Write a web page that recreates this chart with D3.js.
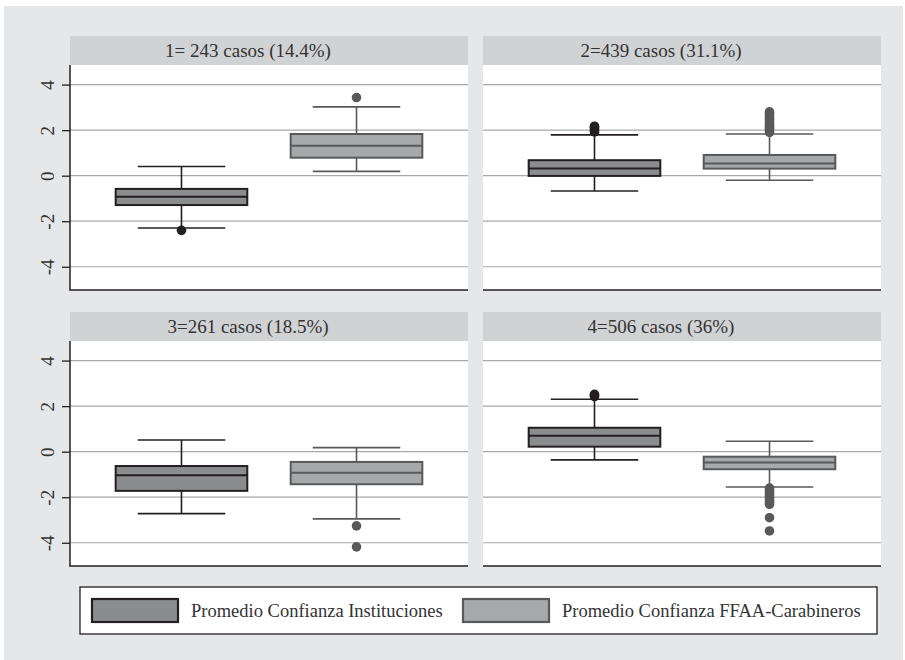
<!DOCTYPE html>
<html>
<head>
<meta charset="utf-8">
<script src="https://cdn.jsdelivr.net/npm/d3@7/dist/d3.min.js"></script>
<style>
  html, body { margin: 0; padding: 0; background: #ffffff; }
  svg { display: block; }
</style>
</head>
<body>
<svg id="chart" width="905" height="660"></svg>
<script>
// ---------------- DATA ----------------
const panelTitles = ["1= 243 casos (14.4%)", "2=439 casos (31.1%)", "3=261 casos (18.5%)", "4=506 casos (36%)"];
const seriesNames = ["Promedio Confianza Instituciones", "Promedio Confianza FFAA-Carabineros"];
const yTicks = [-4, -2, 0, 2, 4];

// Series 1: Promedio Confianza Instituciones (per panel 1..4)
const instLowWhisker = [-2.30, -0.67, -2.72, -0.36];
const instQ1         = [-1.29, -0.01, -1.72,  0.22];
const instMedian     = [-0.92,  0.31, -1.04,  0.70];
const instQ3         = [-0.58,  0.68, -0.63,  1.05];
const instUpWhisker  = [ 0.40,  1.79,  0.51,  2.30];
const instOutliers   = [[-2.40], [1.92, 1.98, 2.05, 2.12, 2.17], [], [2.42, 2.47, 2.52]];

// Series 2: Promedio Confianza FFAA-Carabineros (per panel 1..4)
const ffaaLowWhisker = [ 0.19, -0.20, -2.95, -1.55];
const ffaaQ1         = [ 0.79,  0.31, -1.43, -0.77];
const ffaaMedian     = [ 1.31,  0.54, -0.92, -0.48];
const ffaaQ3         = [ 1.83,  0.91, -0.45, -0.22];
const ffaaUpWhisker  = [ 3.02,  1.83,  0.18,  0.46];
const ffaaOutliers   = [[3.43],
                        [1.90, 1.97, 2.04, 2.11, 2.18, 2.25, 2.32, 2.40, 2.48, 2.56, 2.64, 2.72, 2.80],
                        [-3.26, -4.18],
                        [-1.60, -1.68, -1.76, -1.84, -1.92, -2.00, -2.08, -2.16, -2.24, -2.31, -2.90, -3.48]];

// ---------------- STYLE / LAYOUT ----------------
const FONT = "'Liberation Serif', 'DejaVu Serif', 'Noto Serif', 'Times New Roman', serif";
const colors = {
  bg: "#e6e7e8", strip: "#d1d2d4", plot: "#ffffff", grid: "#a7a8aa",
  axis: "#231f20", text: "#333333"
};
const seriesStyle = [
  { fill: "#8b8c8e", stroke: "#231f20", dot: "#231f20" },
  { fill: "#a7a8aa", stroke: "#58595b", dot: "#58595b" }
];

const colX = [70, 483], panelW = 398;
const rowY = [36, 312], stripH = 29, plotH = 225;
const yDomain = [-5.02, 4.86];

const series = [
  { lo: instLowWhisker, q1: instQ1, med: instMedian, q3: instQ3, hi: instUpWhisker, out: instOutliers },
  { lo: ffaaLowWhisker, q1: ffaaQ1, med: ffaaMedian, q3: ffaaQ3, hi: ffaaUpWhisker, out: ffaaOutliers }
];

const svg = d3.select("#chart");
svg.append("rect").attr("x", 4).attr("y", 6).attr("width", 899).attr("height", 654).attr("fill", colors.bg);

const x = d3.scalePoint().domain(seriesNames).range([0, panelW]).padding(0.637);
const step = x.step();
const boxW = step * 0.752, capW = step * 0.5;

panelTitles.forEach((title, p) => {
  const col = p % 2, row = Math.floor(p / 2);
  const px = colX[col], top = rowY[row];
  const plotTop = top + stripH, plotBottom = plotTop + plotH;
  const y = d3.scaleLinear().domain(yDomain).range([plotBottom, plotTop]);
  const g = svg.append("g").attr("transform", `translate(${px},0)`);

  g.append("rect").attr("x", 0).attr("y", top).attr("width", panelW).attr("height", stripH).attr("fill", colors.strip);
  g.append("text").attr("x", panelW / 2 - 21).attr("y", top + stripH / 2 + 6.5)
    .attr("text-anchor", "middle").style("font-family", FONT).style("font-size", "19px")
    .attr("fill", colors.text).text(title);

  g.append("rect").attr("x", 0).attr("y", plotTop).attr("width", panelW).attr("height", plotH).attr("fill", colors.plot);

  g.append("g").selectAll("line").data(yTicks).join("line")
    .attr("x1", 0).attr("x2", panelW)
    .attr("y1", d => y(d)).attr("y2", d => y(d))
    .attr("stroke", colors.grid).attr("stroke-width", 1.2);

  if (col === 0) {
    const ax = g.append("g").call(d3.axisLeft(y).tickValues(yTicks).tickSize(8).tickFormat(d => String(d)));
    ax.select(".domain").attr("stroke", colors.axis).attr("stroke-width", 1.5)
      .attr("d", `M0,${plotTop}V${plotBottom}`);
    ax.selectAll(".tick line").attr("stroke", colors.axis).attr("stroke-width", 1.3);
    ax.selectAll(".tick text")
      .style("font-family", FONT).style("font-size", "19px").attr("fill", colors.text)
      .attr("x", 0).attr("y", 0).attr("dy", null)
      .attr("text-anchor", "middle")
      .attr("transform", "rotate(-90) translate(0,-16)");
  }
  g.append("line").attr("x1", col === 0 ? -0.75 : 0).attr("x2", panelW)
    .attr("y1", plotBottom).attr("y2", plotBottom)
    .attr("stroke", colors.axis).attr("stroke-width", 1.5);

  series.forEach((s, si) => {
    const st = seriesStyle[si];
    const cx = x(seriesNames[si]);
    const bg = g.append("g");
    bg.append("line").attr("x1", cx).attr("x2", cx).attr("y1", y(s.q3[p])).attr("y2", y(s.hi[p]))
      .attr("stroke", st.stroke).attr("stroke-width", 1.6);
    bg.append("line").attr("x1", cx).attr("x2", cx).attr("y1", y(s.q1[p])).attr("y2", y(s.lo[p]))
      .attr("stroke", st.stroke).attr("stroke-width", 1.6);
    bg.append("line").attr("x1", cx - capW / 2).attr("x2", cx + capW / 2).attr("y1", y(s.hi[p])).attr("y2", y(s.hi[p]))
      .attr("stroke", st.stroke).attr("stroke-width", 1.6);
    bg.append("line").attr("x1", cx - capW / 2).attr("x2", cx + capW / 2).attr("y1", y(s.lo[p])).attr("y2", y(s.lo[p]))
      .attr("stroke", st.stroke).attr("stroke-width", 1.6);
    bg.append("rect").attr("x", cx - boxW / 2).attr("width", boxW)
      .attr("y", y(s.q3[p])).attr("height", y(s.q1[p]) - y(s.q3[p]))
      .attr("fill", st.fill).attr("stroke", st.stroke).attr("stroke-width", 2);
    bg.append("line").attr("x1", cx - boxW / 2).attr("x2", cx + boxW / 2)
      .attr("y1", y(s.med[p])).attr("y2", y(s.med[p]))
      .attr("stroke", st.stroke).attr("stroke-width", 2);
    bg.selectAll("circle").data(s.out[p]).join("circle")
      .attr("cx", cx).attr("cy", d => y(d)).attr("r", 4.8).attr("fill", st.dot);
  });
});

const lg = svg.append("g");
lg.append("rect").attr("x", 80).attr("y", 587).attr("width", 797).attr("height", 47)
  .attr("fill", "#ffffff").attr("stroke", colors.axis).attr("stroke-width", 1.3);
const legendX = [92, 463];
seriesNames.forEach((name, i) => {
  const st = seriesStyle[i];
  lg.append("rect").attr("x", legendX[i]).attr("y", 599).attr("width", 86).attr("height", 23)
    .attr("fill", st.fill).attr("stroke", st.stroke).attr("stroke-width", 2.2);
  lg.append("text").attr("x", legendX[i] + 99).attr("y", 617)
    .style("font-family", FONT).style("font-size", "18.5px").attr("fill", colors.text).text(name);
});
</script>
</body>
</html>
